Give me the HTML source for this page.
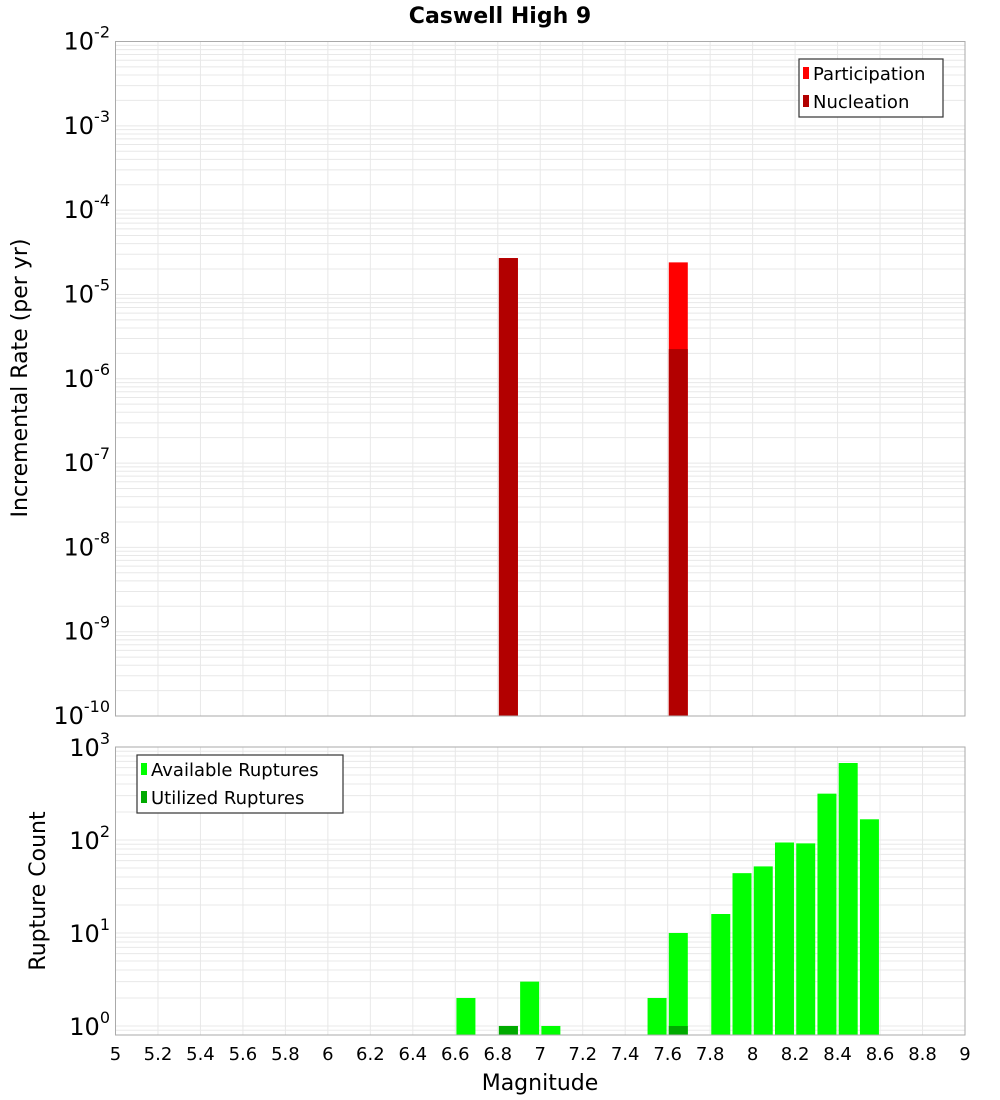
<!DOCTYPE html>
<html><head><meta charset="utf-8"><style>
body{margin:0;background:#fff;}
svg{display:block;font-family:"DejaVu Sans","Liberation Sans",sans-serif;}
</style></head><body>
<svg id="chart" width="1000" height="1100" viewBox="0 0 1000 1100">
<text x="500" y="23" text-anchor="middle" font-size="22" font-weight="bold">Caswell High 9</text>
<g id="topg"></g><g id="botg"></g>
<text transform="translate(27,378) rotate(-90)" text-anchor="middle" font-size="22">Incremental Rate (per yr)</text>
<text transform="translate(45,891) rotate(-90)" text-anchor="middle" font-size="22">Rupture Count</text>
<text x="540" y="1090" text-anchor="middle" font-size="22">Magnitude</text>
</svg>
<script>
const mags=[6.65,6.85,6.95,7.05,7.55,7.65,7.85,7.95,8.05,8.15,8.25,8.35,8.45,8.55];
const available=[2,1,3,1,2,10,16,44,52,94,92,315,673,167];
const utilizedMags=[6.85,7.65];
const utilized=[1,1];
const rateMags=[6.85,7.65];
const participation=[2.7e-5,2.4e-5];
const nucleation=[2.7e-5,2.25e-6];
const xTicks=["5","5.2","5.4","5.6","5.8","6","6.2","6.4","6.6","6.8","7","7.2","7.4","7.6","7.8","8","8.2","8.4","8.6","8.8","9"];

const NS="http://www.w3.org/2000/svg";
const X0=115.5,X1=965;
const x=m=>X0+(m-5)/4*(X1-X0);
const topT=41.5,topB=716, yTop=v=>topT+(Math.log10(1e-2)-Math.log10(v))/8*(topB-topT);
const botT=747,botB=1035,lmin=Math.log10(0.8),lmax=3, yBot=v=>botT+(lmax-Math.log10(v))/(lmax-lmin)*(botB-botT);
function mk(tag,attrs,parent,text){const e=document.createElementNS(NS,tag);for(const k in attrs)e.setAttribute(k,attrs[k]);if(text!==undefined)e.textContent=text;parent.appendChild(e);return e;}
const topG=document.getElementById('topg'),botG=document.getElementById('botg');

function grid(g,T,B,yf,dmin,dmax,lowV){
  for(let i=0;i<xTicks.length;i++){const xx=x(parseFloat(xTicks[i]));mk('line',{x1:xx,x2:xx,y1:T,y2:B,stroke:'#e8e8e8','stroke-width':1},g);}
  for(let d=dmin;d<dmax;d++)for(let k=1;k<10;k++){const v=k*Math.pow(10,d);if(v<lowV)continue;const yy=yf(v);if(yy<T-0.1||yy>B)continue;mk('line',{x1:X0,x2:X1,y1:yy,y2:yy,stroke:'#e8e8e8','stroke-width':1},g);}
}
grid(topG,topT,topB,yTop,-10,-2,1e-10);
grid(botG,botT,botB,yBot,-1,3,0.8);

const bw=19;
for(let i=0;i<rateMags.length;i++){
  const r=mk('rect',{x:x(rateMags[i])-bw/2,y:yTop(participation[i]),width:bw,height:topB-yTop(participation[i]),fill:'#ff0000'},topG);
  
  
}
for(let i=0;i<rateMags.length;i++){
  const r=mk('rect',{x:x(rateMags[i])-bw/2,y:yTop(nucleation[i]),width:bw,height:topB-yTop(nucleation[i]),fill:'#b20000'},topG);
  
  
}
for(let i=0;i<mags.length;i++){
  const r=mk('rect',{x:x(mags[i])-bw/2,y:yBot(available[i]),width:bw,height:botB-yBot(available[i]),fill:'#00ff00'},botG);
  
  
}
for(let i=0;i<utilizedMags.length;i++){
  const r=mk('rect',{x:x(utilizedMags[i])-bw/2,y:yBot(utilized[i]),width:bw,height:botB-yBot(utilized[i]),fill:'#00aa00'},botG);
  
  
}
mk('rect',{x:X0,y:topT,width:X1-X0,height:topB-topT,fill:'none',stroke:'#aaa'},topG);
mk('rect',{x:X0,y:botT,width:X1-X0,height:botB-botT,fill:'none',stroke:'#aaa'},botG);

for(let d=-10;d<=-2;d++){
  const t=mk('text',{x:110,y:yTop(Math.pow(10,d))+8,'text-anchor':'end','font-size':24},topG);
  
  
  mk('tspan',{},t,'10');mk('tspan',{dy:-12,'font-size':16},t,String(d));
}
for(let d=0;d<=3;d++){
  const t=mk('text',{x:110,y:yBot(Math.pow(10,d))+9,'text-anchor':'end','font-size':24},botG);
  
  
  mk('tspan',{},t,'10');mk('tspan',{dy:-12,'font-size':16},t,String(d));
}
for(let i=0;i<xTicks.length;i++){
  const t=mk('text',{x:x(parseFloat(xTicks[i])),y:1060,'text-anchor':'middle','font-size':18},botG,xTicks[i]);
  
  
}
function legend(g,lx,ly,w,items){
  const L=mk('g',{},g);
  
  
  mk('rect',{x:lx,y:ly,width:w,height:58,fill:'#fff',stroke:'#333','stroke-width':1.2},L);
  items.forEach((it,i)=>{
    const cy=ly+14+i*28;
    mk('rect',{x:lx+4,y:cy-6,width:6,height:12,fill:it[1]},L);
    const t=mk('text',{x:lx+14,y:cy+7,'font-size':18},L,it[0]);
    
    
  });
}
legend(topG,799,59,144,[['Participation','#ff0000'],['Nucleation','#b20000']]);
legend(botG,137,755,206,[['Available Ruptures','#00ff00'],['Utilized Ruptures','#00aa00']]);
</script>
</body></html>
